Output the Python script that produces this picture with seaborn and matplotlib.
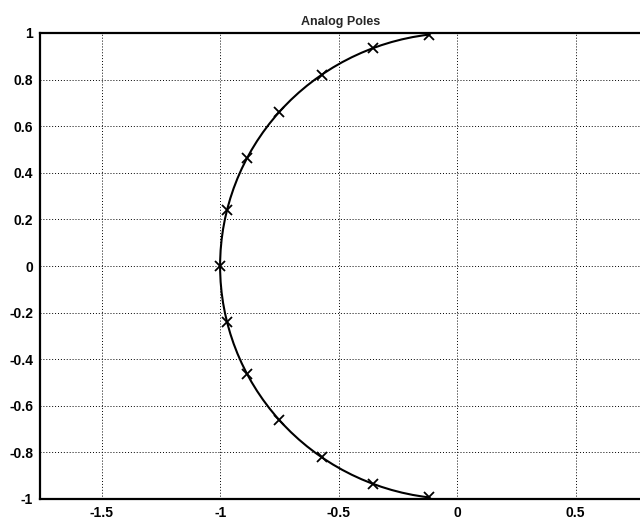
import matplotlib
matplotlib.use("Agg")
import matplotlib.pyplot as plt
from matplotlib.patches import Arc
import seaborn as sns
import numpy as np
import pandas as pd

# Analog prototype pole locations (real, imaginary parts)
pole_real = [-0.12, -0.355, -0.57, -0.75, -0.885, -0.97, -1.0,
             -0.97, -0.885, -0.75, -0.57, -0.355, -0.12]
pole_imag = [0.99, 0.935, 0.82, 0.66, 0.465, 0.24, 0.0,
             -0.24, -0.465, -0.66, -0.82, -0.935, -0.99]

x_ticks = [-1.5, -1, -0.5, 0, 0.5]
x_tick_labels = ["-1.5", "-1", "-0.5", "0", "0.5"]
y_ticks = [-1, -0.8, -0.6, -0.4, -0.2, 0, 0.2, 0.4, 0.6, 0.8, 1]
y_tick_labels = ["-1", "-0.8", "-0.6", "-0.4", "-0.2", "0",
                 "0.2", "0.4", "0.6", "0.8", "1"]

sns.set_style("white")
plt.rcParams["font.family"] = ["Liberation Sans", "DejaVu Sans"]

df = pd.DataFrame({"re": pole_real, "im": pole_imag})

W, H = 640, 525
fig = plt.figure(figsize=(W / 100, H / 100), dpi=100)
ax = fig.add_axes([40 / W, (H - 499) / H, 602 / W, 466 / H])

# Unit-circle arc running from the first pole to the last one
re = np.array(pole_real)
im = np.array(pole_imag)
radius = float(np.hypot(re, im).max())
theta_start = float(np.degrees(np.arctan2(im[0], re[0])))
theta_end = float(np.degrees(np.arctan2(im[-1], re[-1])) % 360)
ax.add_patch(Arc((0, 0), 2 * radius, 2 * radius, theta1=theta_start,
                 theta2=theta_end, color="black", linewidth=1.5, zorder=3))

# Pole markers
sns.lineplot(data=df, x="re", y="im", sort=False, estimator=None,
             linestyle="none", marker="x", markersize=7,
             markeredgewidth=1.3, markeredgecolor="black", color="black",
             ax=ax, zorder=4)

ax.set_xlim(-1.76, 0.78)
ax.set_ylim(-1, 1)
ax.set_xticks(x_ticks)
ax.set_xticklabels(x_tick_labels)
ax.set_yticks(y_ticks)
ax.set_yticklabels(y_tick_labels)
ax.set_xlabel("")
ax.set_ylabel("")

ax.grid(True, color="black", linestyle=(0, (1, 2)), linewidth=0.7)
ax.tick_params(direction="in", length=4, width=1.2, colors="black",
               labelsize=10, pad=5)
for lab in ax.get_xticklabels() + ax.get_yticklabels():
    lab.set_fontweight("bold")
for s in ax.spines.values():
    s.set_color("black")
    s.set_linewidth(1.6)

ax.set_title("Analog Poles", fontsize=9, fontweight="bold", pad=6)

fig.savefig("out.png", dpi=100)
